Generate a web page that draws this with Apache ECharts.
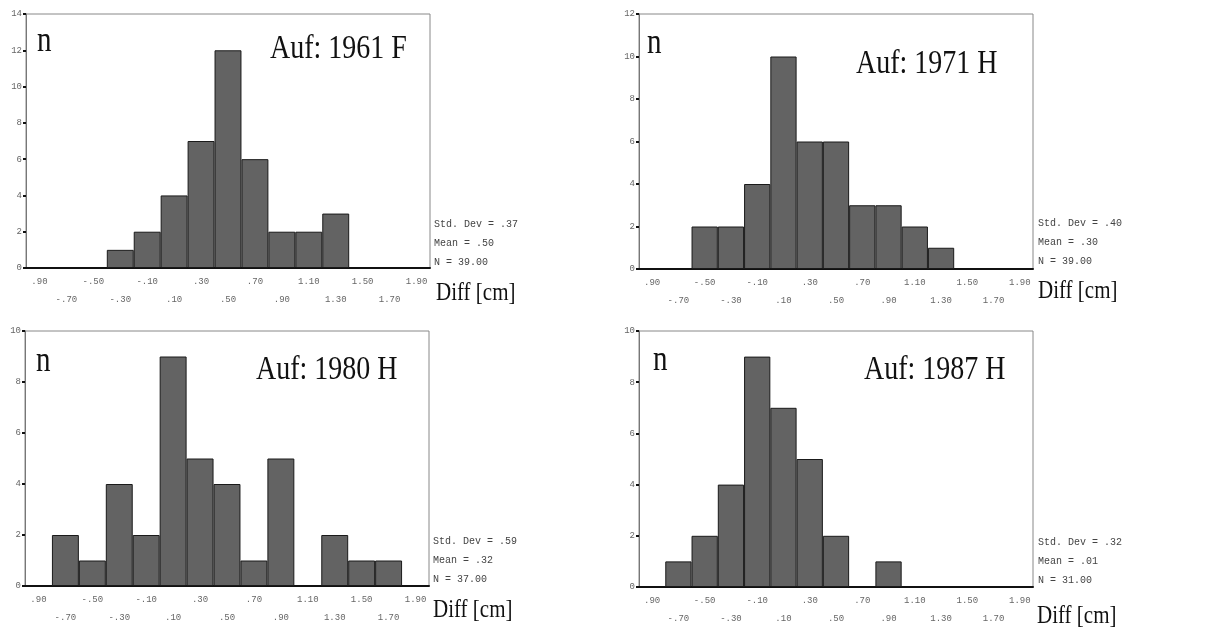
<!DOCTYPE html>
<html>
<head>
<meta charset="utf-8">
<script src="https://cdn.jsdelivr.net/npm/echarts@6/dist/echarts.min.js"></script>
<style>
  html, body { margin: 0; padding: 0; background: #fff; }
  #chart { width: 1206px; height: 629px; }
</style>
</head>
<body>
<div id="chart"></div>
<script>
// bin centres (cm), as printed under the axis
var binLabels = ['.90', '-.70', '-.50', '-.30', '-.10', '.10', '.30', '.50', '.70', '.90', '1.10', '1.30', '1.50', '1.70', '1.90']

// counts per bin
var auf1961F = [0, 0, 0, 1, 2, 4, 7, 12, 6, 2, 2, 3, 0, 0, 0]
var auf1971H = [0, 0, 2, 2, 4, 10, 6, 6, 3, 3, 2, 1, 0, 0, 0]
var auf1980H = [0, 2, 1, 4, 2, 9, 5, 4, 1, 5, 0, 2, 1, 1, 0]
var auf1987H = [0, 1, 2, 4, 9, 7, 5, 2, 0, 1, 0, 0, 0, 0, 0]

var panelTitles = ['Auf: 1961 F', 'Auf: 1971 H', 'Auf: 1980 H', 'Auf: 1987 H']
var panelStats = [
  ['Std. Dev = .37', 'Mean = .50', 'N = 39.00'],
  ['Std. Dev = .40', 'Mean = .30', 'N = 39.00'],
  ['Std. Dev = .59', 'Mean = .32', 'N = 37.00'],
  ['Std. Dev = .32', 'Mean = .01', 'N = 31.00']
]
var yMax = [14, 12, 10, 10]

// layout of the four panels (plot box)
var boxes = [
  {left: 26, top: 14, width: 404, height: 254},
  {left: 639, top: 14, width: 394, height: 255},
  {left: 25, top: 331, width: 404, height: 255},
  {left: 639, top: 331, width: 394, height: 256}
]
var seriesData = [auf1961F, auf1971H, auf1980H, auf1987H]

var serif = '"Liberation Serif", "DejaVu Serif", serif'
var mono = '"Liberation Mono", "DejaVu Sans Mono", monospace'

var grids = [], xAxes = [], yAxes = [], series = [], graphics = []

boxes.forEach(function (b, i) {
  grids.push({
    left: b.left, top: b.top, width: b.width, height: b.height,
    show: true, borderColor: '#888', borderWidth: 1, backgroundColor: '#fff'
  })
  xAxes.push({
    type: 'category',
    gridIndex: i,
    data: binLabels,
    boundaryGap: true,
    axisLine: {lineStyle: {color: '#111', width: 2}},
    axisTick: {alignWithLabel: true, length: 3, lineStyle: {color: '#333', width: 2}},
    axisLabel: {
      interval: 0,
      margin: 5,
      color: '#666',
      fontFamily: mono,
      fontSize: 9,
      lineHeight: 18,
      formatter: function (v, idx) {
        return idx % 2 ? '\n' + v : v
      }
    },
    splitLine: {show: false}
  })
  yAxes.push({
    type: 'value',
    gridIndex: i,
    min: 0,
    max: yMax[i],
    interval: 2,
    axisLine: {show: true, lineStyle: {color: '#777', width: 1}},
    axisTick: {show: true, length: 3, lineStyle: {color: '#111', width: 2}},
    axisLabel: {color: '#666', fontFamily: mono, fontSize: 9, margin: 4},
    splitLine: {show: false}
  })
  series.push({
    type: 'bar',
    xAxisIndex: i,
    yAxisIndex: i,
    barWidth: '100%',
    data: seriesData[i].map(function (v) { return v === 0 ? '-' : v }),
    itemStyle: {color: '#636363', borderColor: '#1a1a1a', borderWidth: 1},
    silent: true
  })
})

var titlePos = [[270, 49], [856, 64], [256, 370], [864, 370]]
var nPos = [[37, 42], [647, 44], [36, 362], [653, 361]]
var statPos = [[434, 224], [1038, 223], [433, 541], [1038, 542]]
var diffPos = [[436, 293], [1038, 291], [433, 610], [1037, 616]]

for (var i = 0; i < 4; i++) {
  graphics.push({
    type: 'text', x: titlePos[i][0], y: titlePos[i][1], scaleY: 1.2,
    style: {text: panelTitles[i], font: '28px ' + serif, fill: '#111', verticalAlign: 'middle'}
  })
  graphics.push({
    type: 'text', x: nPos[i][0], y: nPos[i][1], scaleY: 1.2,
    style: {text: 'n', font: '29px ' + serif, fill: '#111', verticalAlign: 'middle'}
  })
  graphics.push({
    type: 'text', x: diffPos[i][0], y: diffPos[i][1], scaleY: 1.2,
    style: {text: 'Diff [cm]', font: '21px ' + serif, fill: '#111', verticalAlign: 'middle'}
  })
  panelStats[i].forEach(function (s, k) {
    graphics.push({
      type: 'text', x: statPos[i][0], y: statPos[i][1] + k * 19,
      style: {text: s, font: '10px ' + mono, fill: '#444', verticalAlign: 'middle'}
    })
  })
}

var chart = echarts.init(document.getElementById('chart'))
chart.setOption({
  animation: false,
  backgroundColor: '#fff',
  grid: grids,
  xAxis: xAxes,
  yAxis: yAxes,
  series: series,
  graphic: graphics
})
</script>
</body>
</html>
